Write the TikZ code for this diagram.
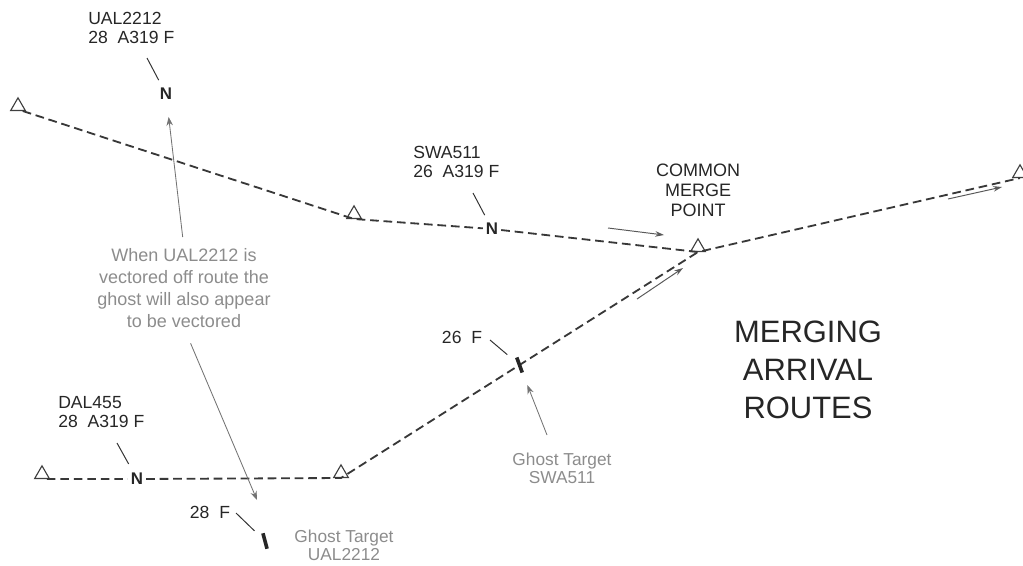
\documentclass[tikz,border=0pt]{standalone}
\usepackage{fontspec}
\setmainfont{Liberation Sans}
\usetikzlibrary{calc, positioning}
\usetikzlibrary{arrows.meta}
\usetikzlibrary{shapes.geometric}

\begin{document}
\begin{tikzpicture}[x=0.025cm, y=-0.025cm,
  route/.style={draw=black!78, line width=1.3pt, dash pattern=on 6.2pt off 3.4pt},
  fix/.style={draw=black!75, regular polygon, regular polygon sides=3, minimum size=0.42cm, inner sep=0pt, line width=0.8pt, anchor=south},
  tgt/.style={font=\bfseries\fontsize{12}{12}\selectfont, text=black!85, inner sep=2pt},
  ghost/.style={fill=black!85, minimum width=0.09cm, minimum height=0.4cm, inner sep=0pt},
  tag/.style={font=\fontsize{12.5}{13.8}\selectfont, align=left, text=black!85, inner sep=0pt},
  note/.style={font=\fontsize{12.8}{15.6}\selectfont, align=center, text=black!45, inner sep=0pt},
  lead/.style={draw=black!80, line width=0.7pt},
  pointer/.style={draw=black!55, line width=0.6pt, -{Stealth[length=2.2mm, width=1.6mm]}},
  flow/.style={draw=black!65, line width=0.7pt, -{Stealth[length=2.2mm, width=1.4mm]}}]
\useasboundingbox (0,0) rectangle (1023,565);

% waypoints (base of each fix)
\coordinate (wpA) at (18,111);
\coordinate (wpB) at (354,219);
\coordinate (wpM) at (698,252);
\coordinate (wpF) at (1020,178);
\coordinate (wpD) at (42,479);
\coordinate (wpE) at (341,478);

\node[fix] (fixA) at (wpA) {};
\node[fix] (fixB) at (wpB) {};
\node[fix] (fixM) at (wpM) {};
\node[fix] (fixF) at (wpF) {};
\node[fix] (fixD) at (wpD) {};
\node[fix] (fixE) at (wpE) {};

% aircraft
\node[tgt] (ualN) at (166,94) {N};
\node[tgt] (swaN) at (492,229) {N};
\node[tgt] (dalN) at (137,479) {N};
\node[ghost, rotate=15] (ualGhost) at (265,541) {};

% routes
\draw[route] (fixA.south east) -- (wpB) -- (swaN) -- (wpM) -- (wpF);
\draw[route] (fixD.south east) -- (dalN) -- (wpE) -- (wpM)
  node[ghost, pos=0.5, rotate=20] (swaGhost) {};

% data tags
\node[tag, anchor=north west] (ualTag) at (88,12) {UAL2212\\28\ \ A319 F};
\node[tag, anchor=north west] (swaTag) at (413,146) {SWA511\\26\ \ A319 F};
\node[tag, anchor=north west] (dalTag) at (58,396) {DAL455\\28\ \ A319 F};
\node[tag] (ualGhostTag) at (210,512) {28\ \ F};
\node[tag] (swaGhostTag) at (462,337) {26\ \ F};

\coordinate (ualLead) at (147,58);
\coordinate (swaLead) at (473,193);
\coordinate (dalLead) at (117,443);
\coordinate (ualGhostLead) at (236,513);
\coordinate (swaGhostLead) at (490,340);
\draw[lead, shorten >=4pt] (ualLead) -- (ualN);
\draw[lead, shorten >=4pt] (swaLead) -- (swaN);
\draw[lead, shorten >=5pt] (dalLead) -- (dalN);
\draw[lead, shorten >=7.5pt] (ualGhostLead) -- (ualGhost);
\draw[lead, shorten >=7.5pt] (swaGhostLead) -- (swaGhost);

% labels
\node[tag, align=center, font=\fontsize{12.8}{14.2}\selectfont] (mergeLbl) at (698,190) {COMMON\\MERGE\\POINT};
\node[note] (noteTxt) at (184,288) {When UAL2212 is\\vectored off route the\\ghost will also appear\\to be vectored};
\node[note, font=\fontsize{12.3}{13}\selectfont] (ualGhostLbl) at (344,545) {Ghost Target\\UAL2212};
\node[note, font=\fontsize{12.3}{13}\selectfont] (swaGhostLbl) at (562,468) {Ghost Target\\SWA511};
\node[tag, align=center, font=\fontsize{22}{27}\selectfont] (title) at (808,370) {MERGING\\ARRIVAL\\ROUTES};

% pointers
\coordinate (swaTail) at (547,435);
\coordinate (ualGhostTip) at (257,500);
\draw[pointer, shorten <=8pt, shorten >=10pt] (noteTxt.north) -- (ualN);
\draw[pointer, shorten <=12pt] (noteTxt.south) -- (ualGhostTip);
\draw[pointer, shorten >=9pt] (swaTail) -- (swaGhost);

% direction of flow
\coordinate (flowA1) at (608,228);
\coordinate (flowA2) at (664,235);
\coordinate (flowB1) at (637,299);
\coordinate (flowB2) at (683,268);
\coordinate (flowC1) at (948,199);
\coordinate (flowC2) at (1002,187);
\draw[flow] (flowA1) -- (flowA2);
\draw[flow] (flowB1) -- (flowB2);
\draw[flow] (flowC1) -- (flowC2);
\end{tikzpicture}
\end{document}
